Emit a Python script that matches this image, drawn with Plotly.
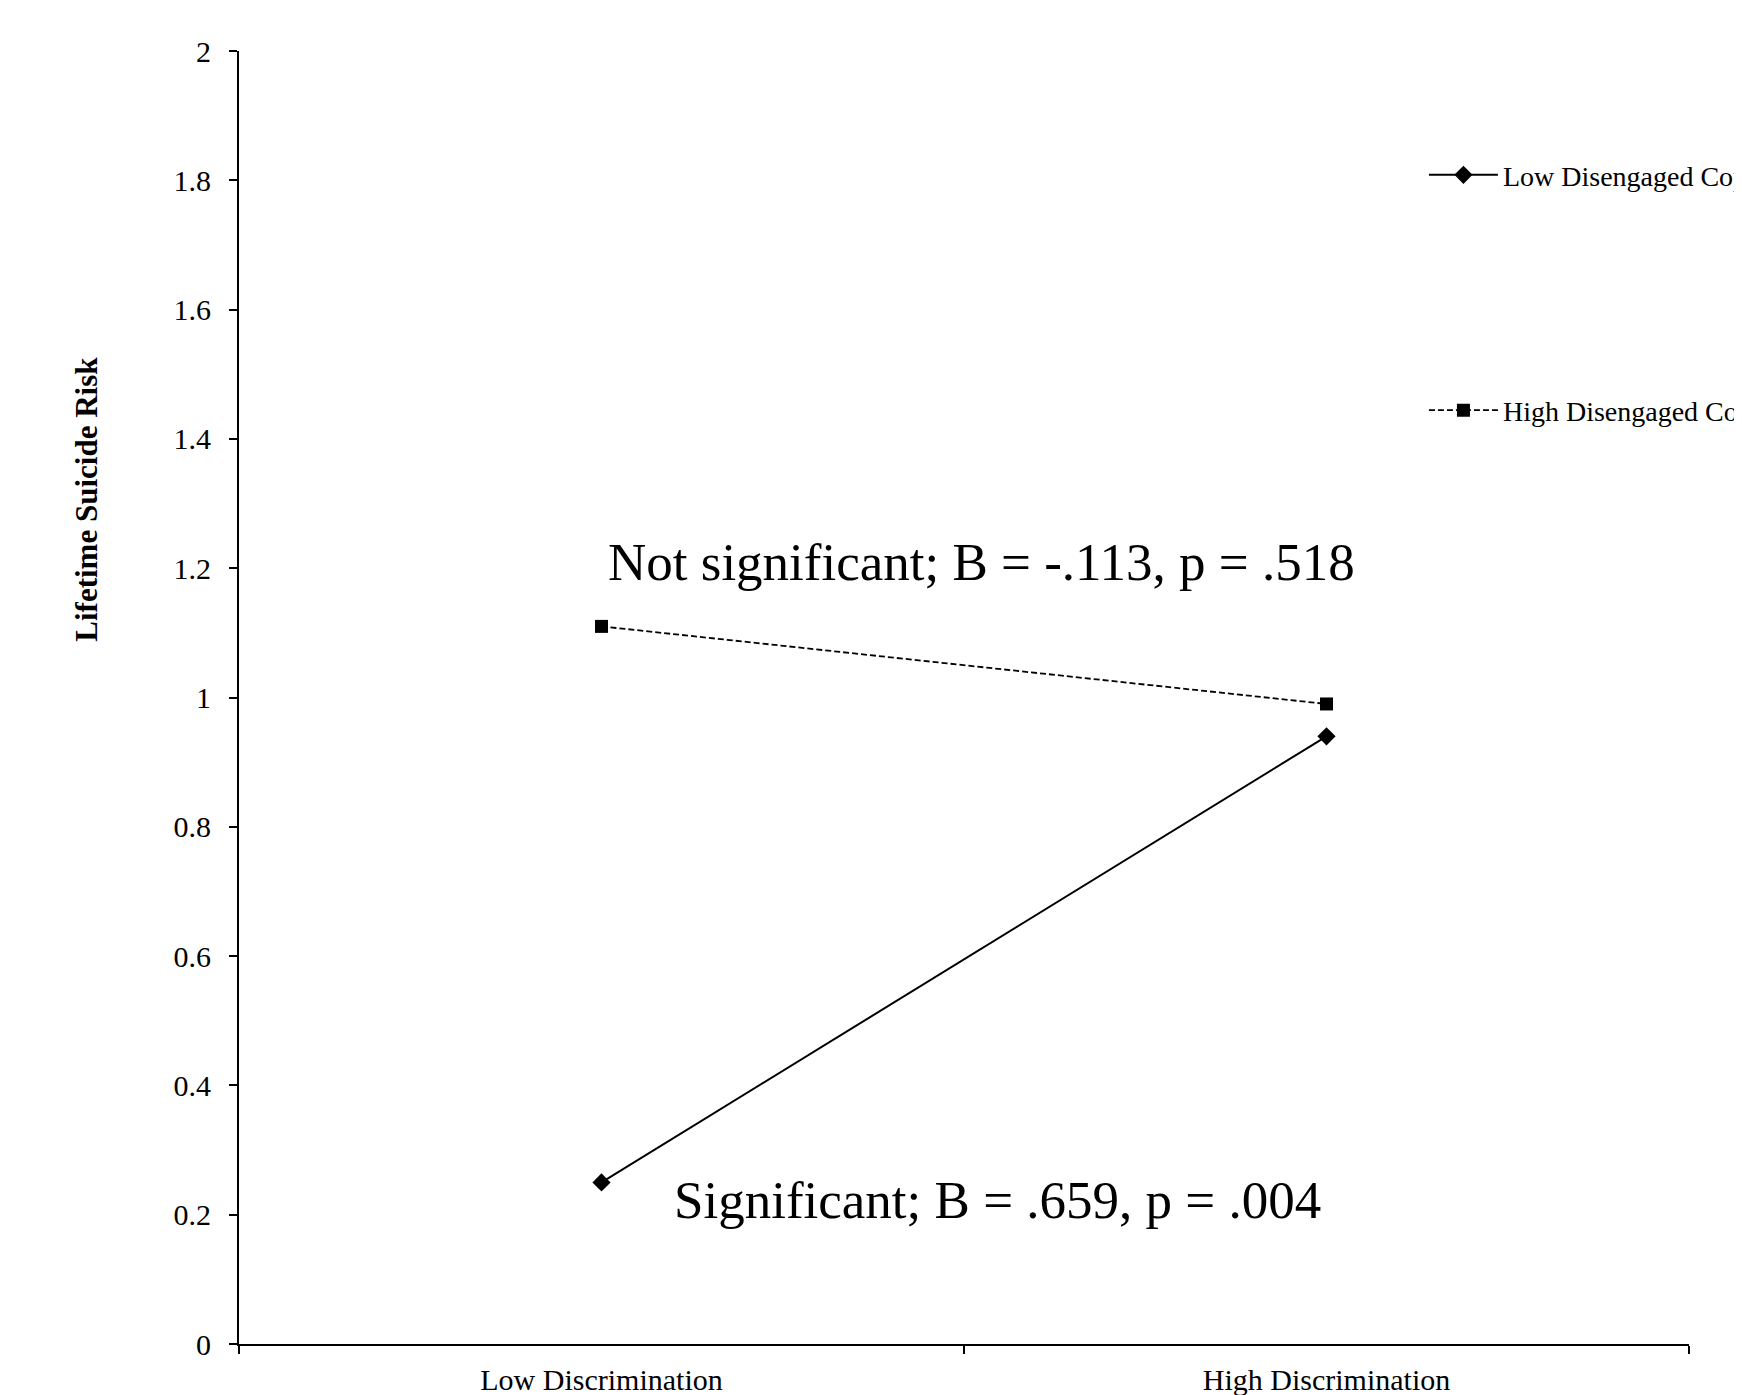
import plotly.graph_objects as go

categories = ["Low Discrimination", "High Discrimination"]
low_disengaged = [0.25, 0.94]
high_disengaged = [1.11, 0.99]
series_names = ["Low Disengaged Coping", "High Disengaged Coping"]
y_ticks = [0, 0.2, 0.4, 0.6, 0.8, 1, 1.2, 1.4, 1.6, 1.8, 2]
y_tick_text = ["0", "0.2", "0.4", "0.6", "0.8", "1", "1.2", "1.4", "1.6", "1.8", "2"]
note_high = "Not significant; B = -.113, p = .518"
note_low = "Significant; B = .659, p = .004"
y_title = "Lifetime Suicide Risk"

FONT = "Liberation Serif"

fig = go.Figure()
fig.add_trace(go.Scatter(
    x=categories, y=low_disengaged, name=series_names[0], mode="lines+markers",
    line=dict(color="black", width=2),
    marker=dict(symbol="diamond", size=14, color="black"),
    legend="legend",
))
fig.add_trace(go.Scatter(
    x=categories, y=high_disengaged, name=series_names[1], mode="lines+markers",
    line=dict(color="black", width=1.8, dash="6px,3px"),
    marker=dict(symbol="square", size=13, color="black"),
    legend="legend2",
))

axis_common = dict(showline=True, linecolor="black", linewidth=2, ticks="outside",
                   ticklen=8, tickwidth=2, tickcolor="black", showgrid=False, zeroline=False,
                   tickfont=dict(family=FONT, size=30, color="black"))

fig.update_layout(
    width=1742, height=1395,
    margin=dict(l=231, r=61, t=43, b=59, autoexpand=False),
    plot_bgcolor="white", paper_bgcolor="white",
    font=dict(family=FONT, color="black"),
    xaxis=dict(type="category", range=[-0.5, 1.5], tickson="boundaries",
               ticklabelstandoff=8, **axis_common),
    yaxis=dict(range=[0, 2], tickvals=y_ticks, ticktext=y_tick_text,
               ticklabelstandoff=12, **axis_common),
    legend=dict(x=0.8172, y=0.904, xanchor="left", yanchor="middle", itemwidth=69,
                font=dict(family=FONT, size=28, color="black"), bgcolor="rgba(0,0,0,0)"),
    legend2=dict(x=0.8172, y=0.722, xanchor="left", yanchor="middle", itemwidth=69,
                 font=dict(family=FONT, size=28, color="black"), bgcolor="rgba(0,0,0,0)"),
    showlegend=True,
)

fig.add_annotation(text=note_high, xref="paper", yref="paper", x=0.512, y=0.605,
                   xanchor="center", yanchor="middle",
                   showarrow=False, font=dict(family=FONT, size=53, color="black"))
fig.add_annotation(text=note_low, xref="paper", yref="paper", x=0.523, y=0.111,
                   xanchor="center", yanchor="middle",
                   showarrow=False, font=dict(family=FONT, size=53, color="black"))
fig.add_annotation(text="<b>" + y_title + "</b>", xref="paper", yref="paper", x=-0.1048, y=0.653,
                   xanchor="center", yanchor="middle",
                   textangle=-90, showarrow=False, font=dict(family=FONT, size=31, color="black"))

fig.write_html("out.html")
